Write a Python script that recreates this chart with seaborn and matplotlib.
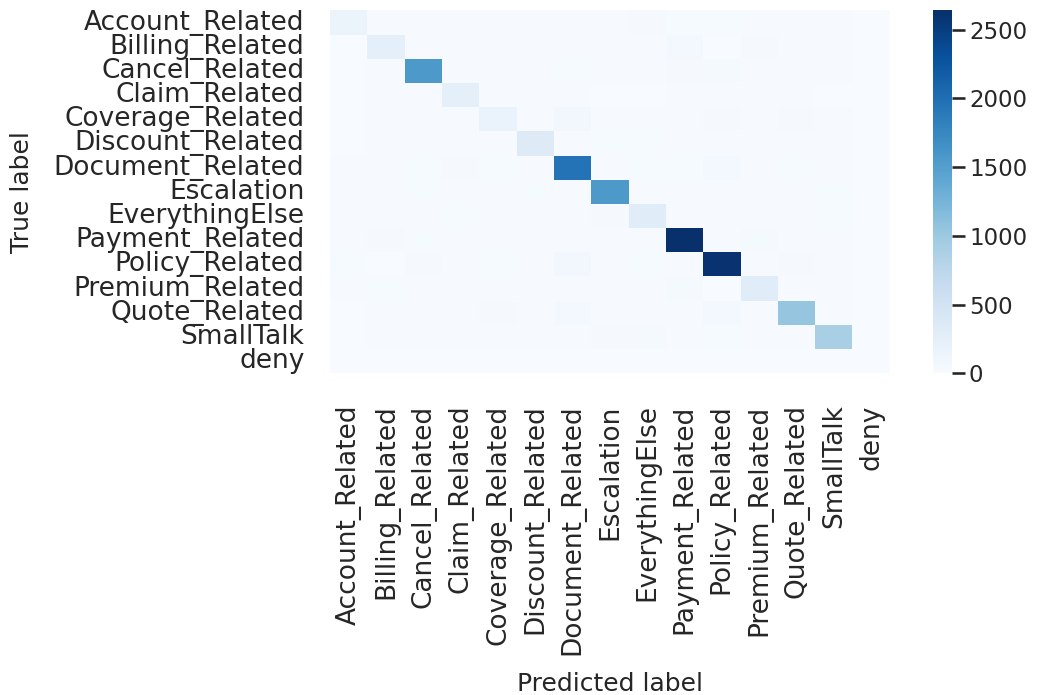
import numpy as np
import pandas as pd
import matplotlib
matplotlib.use("Agg")
import matplotlib.pyplot as plt
import seaborn as sns

labels = ["Account_Related", "Billing_Related", "Cancel_Related", "Claim_Related",
          "Coverage_Related", "Discount_Related", "Document_Related", "Escalation",
          "EverythingElse", "Payment_Related", "Policy_Related", "Premium_Related",
          "Quote_Related", "SmallTalk", "deny"]

# rows = true label, columns = predicted label
account_row  = [150, 15, 20, 15, 15, 15, 20, 20, 40, 30, 25, 20, 15, 15, 0]
billing_row  = [10, 250, 20, 15, 15, 15, 15, 15, 20, 70, 5, 40, 15, 15, 0]
cancel_row   = [10, 20, 1560, 15, 15, 15, 25, 15, 15, 40, 50, 20, 15, 15, 0]
claim_row    = [10, 15, 15, 250, 15, 15, 15, 10, 10, 15, 15, 15, 15, 10, 0]
coverage_row = [10, 15, 15, 20, 180, 15, 90, 15, 15, 15, 40, 15, 40, 15, 0]
discount_row = [10, 15, 15, 15, 15, 330, 15, 30, 30, 15, 15, 15, 15, 15, 0]
document_row = [20, 15, 30, 40, 30, 15, 1950, 15, 30, 25, 70, 20, 30, 15, 0]
escal_row    = [15, 15, 25, 15, 15, 25, 15, 1560, 20, 15, 15, 15, 15, 30, 0]
else_row     = [15, 15, 15, 30, 15, 15, 15, 40, 300, 15, 20, 15, 15, 30, 0]
payment_row  = [15, 40, 30, 15, 15, 15, 15, 20, 15, 2640, 15, 50, 15, 15, 0]
policy_row   = [30, 5, 40, 15, 30, 15, 80, 20, 30, 15, 2600, 15, 40, 15, 0]
premium_row  = [20, 30, 15, 15, 15, 15, 15, 15, 15, 50, 10, 300, 15, 15, 0]
quote_row    = [10, 15, 15, 15, 40, 15, 70, 15, 15, 15, 60, 15, 1050, 15, 0]
smalltalk_row = [10, 15, 15, 15, 15, 15, 20, 35, 50, 15, 25, 15, 15, 900, 0]
deny_row     = [0] * 15

cm = pd.DataFrame([account_row, billing_row, cancel_row, claim_row, coverage_row,
                   discount_row, document_row, escal_row, else_row, payment_row,
                   policy_row, premium_row, quote_row, smalltalk_row, deny_row],
                  index=labels, columns=labels)

sns.set_theme(context="talk", style="white")

fig = plt.figure(figsize=(10.48, 6.95), dpi=100)
ax = fig.add_axes([0.315, 0.463, 0.534, 0.522])
cax = fig.add_axes([0.890, 0.463, 0.018, 0.522])

sns.heatmap(cm, cmap="Blues", ax=ax, cbar_ax=cax, vmin=0, vmax=2640,
            xticklabels=labels, yticklabels=labels)
ax.set_xticklabels(labels, rotation=90, fontsize=19)
ax.set_yticklabels(labels, rotation=0, fontsize=19)
ax.tick_params(axis="x", pad=13.5)
ax.tick_params(axis="y", pad=9.5)
ax.set_xlabel("Predicted label", labelpad=12)
ax.set_ylabel("True label", labelpad=14)

fig.savefig("out.png", dpi=100)
